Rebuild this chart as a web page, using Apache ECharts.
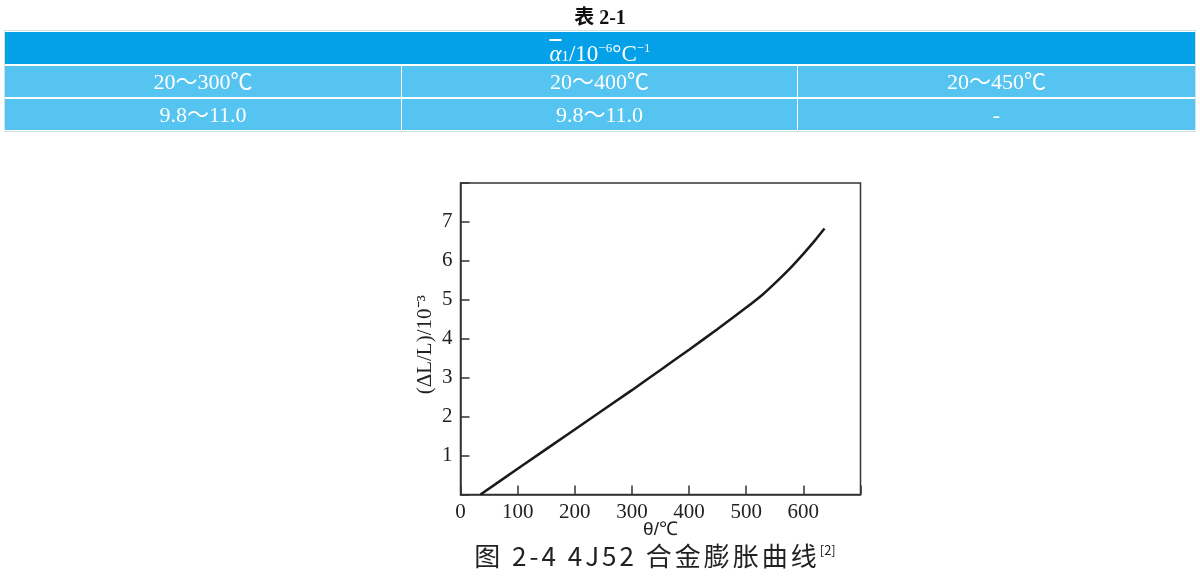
<!DOCTYPE html>
<html>
<head>
<meta charset="utf-8">
<script src="https://cdn.jsdelivr.net/npm/echarts@6/dist/echarts.min.js"></script>
<style>
  html, body { margin:0; padding:0; background:#fff; }
  #page { position:relative; width:1200px; height:576px; overflow:hidden; }
  #chart { position:absolute; left:0; top:0; width:1200px; height:576px; }
  .cell { position:absolute; color:#fff; text-align:center; font-family:"Liberation Serif","Noto Sans CJK SC",serif; font-size:22px; }
  #ttl { position:absolute; left:0; width:1200px; top:1px; text-align:center; font-family:"Liberation Serif","Noto Sans CJK SC",serif; font-weight:bold; font-size:20px; color:#111; }
  #cap { position:absolute; left:455px; width:400px; top:536px; text-align:center; font-family:"Noto Sans CJK SC",sans-serif; font-size:26px; letter-spacing:3px; color:#222; white-space:nowrap; }
  #cap sup { font-size:13px; letter-spacing:0; vertical-align:11px; }
  sup.s { font-size:13px; vertical-align:9px; }
</style>
</head>
<body>
<div id="page">
  <div id="chart"></div>
  <div id="ttl"></div>
  <div id="tbl"></div>
  <div id="cap"></div>
</div>
<script>
// ---- data ----
const tableTitle = "表 2-1";
const tableHeaderHtml = '<span style="text-decoration:overline;font-style:italic">α</span><span style="font-size:15px">1</span>/10<sup class="s">−6</sup>°C<sup class="s">−1</sup>';
const tableRanges = ["20～300℃", "20～400℃", "20～450℃"];
const tableValues = ["9.8～11.0", "9.8～11.0", "-"];

const temps  = [35, 100, 200, 300, 350, 400, 450, 500, 530, 550, 575, 600, 620, 637];
const strain = [0, 0.66, 1.67, 2.68, 3.20, 3.72, 4.25, 4.80, 5.15, 5.42, 5.78, 6.18, 6.52, 6.83];

const xAxisName = "θ/℃";
const yAxisName = "(ΔL/L)/10⁻³";
const captionText = "图 2-4 4J52 合金膨胀曲线";
const captionRef = "[2]";

// ---- table (HTML) ----
document.getElementById('ttl').textContent = tableTitle;
const tbl = document.getElementById('tbl');
function addCell(x, y, w, h, bg, html, fs) {
  const d = document.createElement('div');
  d.className = 'cell';
  d.style.left = x + 'px'; d.style.top = y + 'px';
  d.style.width = w + 'px'; d.style.height = h + 'px';
  d.style.lineHeight = h + 'px';
  d.style.background = bg;
  if (fs) d.style.fontSize = fs + 'px';
  d.innerHTML = html;
  tbl.appendChild(d);
}
const ob = document.createElement('div');
ob.style.cssText = 'position:absolute;left:4px;top:30px;width:1190px;height:100px;border:1px solid #cfe3e6;';
tbl.appendChild(ob);
addCell(5, 32, 1190, 32, '#04A1E8', tableHeaderHtml, 23);
const colX = [5, 402, 798], colW = [396, 395, 397];
tableRanges.forEach((t, i) => addCell(colX[i], 66, colW[i], 31, '#56C4F1', t));
tableValues.forEach((t, i) => addCell(colX[i], 99, colW[i], 31, '#56C4F1', t));

document.getElementById('cap').innerHTML = captionText + '<sup>' + captionRef + '</sup>';

// ---- chart ----
const chart = echarts.init(document.getElementById('chart'));
const serif = 'Liberation Serif';
chart.setOption({
  animation: false,
  grid: { left: 460.5, top: 183, width: 400, height: 311.5, show: true, borderColor: '#333', borderWidth: 1.5, backgroundColor: 'transparent' },
  xAxis: {
    type: 'value', min: 0, max: 700, interval: 100,
    axisLine: { show: true, lineStyle: { color: '#333', width: 1.5 } },
    axisTick: { show: true, inside: true, length: 9, lineStyle: { color: '#333', width: 1.5 } },
    axisLabel: { margin: 7, color: '#222', fontFamily: serif, fontSize: 21, formatter: v => (v >= 700 ? '' : String(v)) },
    splitLine: { show: false },
    name: xAxisName, nameLocation: 'middle', nameGap: 26, nameMoveOverlap: false,
    nameTextStyle: { color: '#222', fontFamily: 'Liberation Sans', fontSize: 19 }
  },
  yAxis: {
    type: 'value', min: 0, max: 8, interval: 1,
    axisLine: { show: true, lineStyle: { color: '#333', width: 1.5 } },
    axisTick: { show: true, inside: true, length: 9, lineStyle: { color: '#333', width: 1.5 } },
    axisLabel: { margin: 8, color: '#222', fontFamily: serif, fontSize: 21, formatter: v => (v <= 0 || v >= 8 ? '' : String(v)) },
    splitLine: { show: false },
    name: yAxisName, nameLocation: 'middle', nameGap: 25, nameRotate: 90, nameMoveOverlap: false,
    nameTextStyle: { color: '#222', fontFamily: serif, fontSize: 21, padding: [0, 12, 0, 0] }
  },
  series: [{
    type: 'line',
    data: temps.map((t, i) => [t, strain[i]]),
    smooth: 0.25,
    showSymbol: false,
    lineStyle: { color: '#1a1a1a', width: 2.5 }
  }]
});
</script>
</body>
</html>
